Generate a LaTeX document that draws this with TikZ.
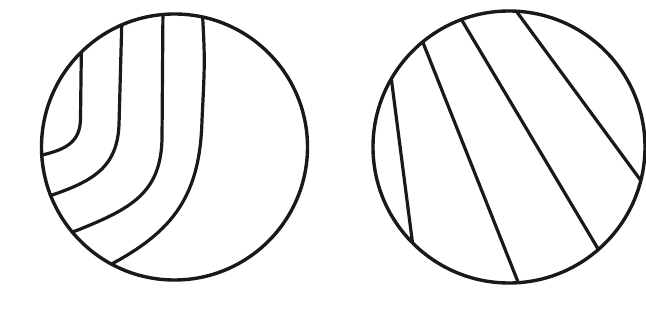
\documentclass[tikz,border=0pt]{standalone}
\usetikzlibrary{calc}
\begin{document}
\begin{tikzpicture}[x=1pt,y=-1pt,
  outline/.style={line width=3.4pt,draw=black!90},
  stripe/.style={line width=3.2pt,draw=black!90}]
\useasboundingbox (0,0) rectangle (646,327);
% left circle
\begin{scope}
  \clip (174.5,147) circle (133);
  \draw[stripe] (81.5,40) -- (80.5,118) .. controls (80.5,143) and (65,150) .. (38,156);
  \draw[stripe] (122,15) -- (119,125) .. controls (117,170) and (90,183) .. (40,199);
  \draw[stripe] (163,5) -- (162,140) .. controls (160,195) and (130,210) .. (65,235);
  \draw[stripe] (202,5) .. controls (205,60) .. (202,120) .. controls (200,200) and (170,235) .. (100,270);
\end{scope}
\draw[outline] (174.5,147) circle (133);
% right circle
\begin{scope}
  \clip (509,147) circle (136);
  \draw[stripe] ($(391.7,81.7)!-0.2!(411.7,236.7)$) -- ($(391.7,81.7)!1.2!(411.7,236.7)$);
  \draw[stripe] ($(423.3,43.3)!-0.2!(518.3,282.7)$) -- ($(423.3,43.3)!1.2!(518.3,282.7)$);
  \draw[stripe] ($(461.7,20)!-0.2!(598.3,249.3)$) -- ($(461.7,20)!1.2!(598.3,249.3)$);
  \draw[stripe] ($(516.7,11.7)!-0.2!(641.7,181.7)$) -- ($(516.7,11.7)!1.2!(641.7,181.7)$);
\end{scope}
\draw[outline] (509,147) circle (136);
\end{tikzpicture}
\end{document}
